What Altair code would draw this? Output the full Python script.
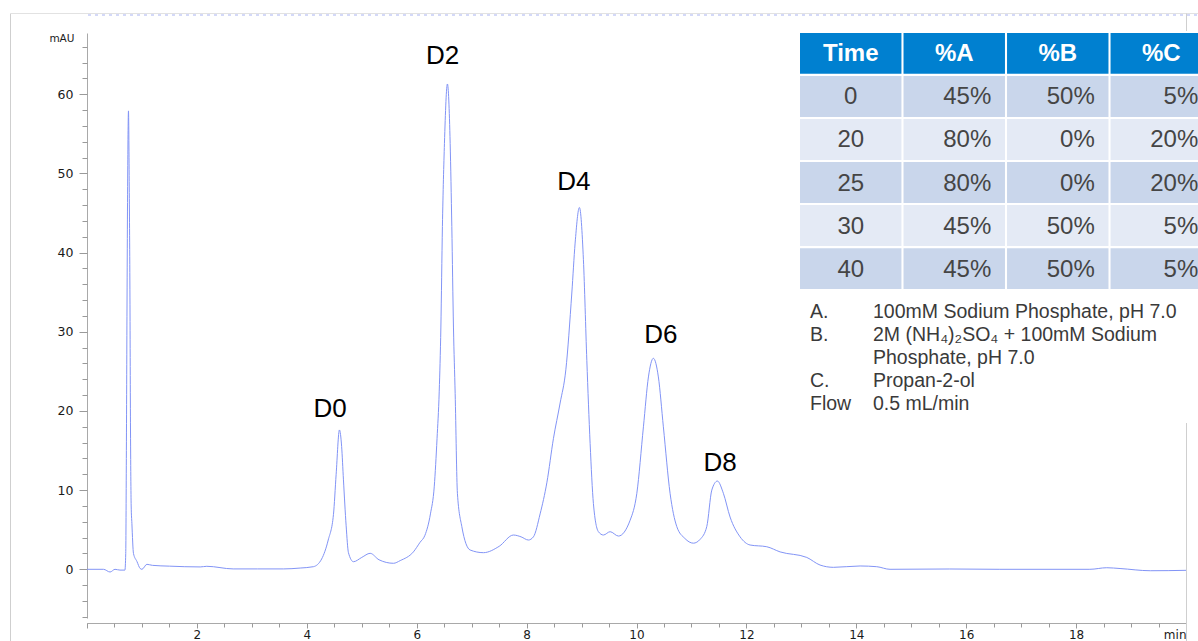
import altair as alt
import pandas as pd

# Chromatogram trace: retention time (min) and absorbance (mAU)
time_min = [
    0.00, 0.30, 0.42, 0.51, 0.60, 0.69, 0.705, 0.716, 0.728, 0.742, 0.755, 0.768,
    0.781, 0.791, 0.804, 0.817, 0.846, 0.908, 0.968, 1.00, 1.09, 1.19, 1.50, 2.06,
    2.18, 2.66, 3.10, 3.58, 3.88, 4.12, 4.27, 4.39, 4.485, 4.534, 4.594, 4.634,
    4.667, 4.716, 4.758, 4.849, 5.00, 5.153, 5.315, 5.577, 5.70, 5.94, 6.06, 6.15,
    6.25, 6.32, 6.37, 6.41, 6.44, 6.468, 6.505, 6.559, 6.609, 6.639, 6.669, 6.70,
    6.741, 6.821, 6.972, 7.214, 7.50, 7.76, 7.90, 8.033, 8.124, 8.246, 8.37, 8.488,
    8.61, 8.714, 8.823, 8.883, 8.961, 9.034, 9.096, 9.156, 9.216, 9.307, 9.398, 9.52,
    9.671, 9.884, 10.006, 10.126, 10.217, 10.307, 10.398, 10.489, 10.611, 10.733,
    10.88, 11.035, 11.16, 11.279, 11.37, 11.472, 11.581, 11.703, 11.885, 12.067,
    12.371, 12.613, 13.099, 13.34, 13.583, 14.07, 14.372, 14.614, 15.70, 16.60,
    18.25, 18.557, 18.80, 19.35, 20.00,
]
absorb_mau = [
    0.00, 0.00, -0.34, 0.00, -0.10, -0.10, 2.0, 14.0, 33.0, 51.0, 57.9, 49.0,
    35.3, 18.5, 8.0, 5.8, 2.0, 1.0, 0.10, 0.00, 0.63, 0.50, 0.40, 0.30,
    0.38, 0.05, 0.05, 0.05, 0.16, 0.33, 1.3, 3.7, 6.9, 12.0, 17.6, 15.5,
    11.3, 5.5, 2.1, 0.96, 1.50, 2.02, 1.20, 0.76, 1.10, 2.20, 3.40, 4.30,
    7.00, 10.5, 16.5, 22.5, 30.6, 43.3, 53.8, 61.3, 53.8, 43.3, 30.6, 22.2,
    9.6, 5.4, 2.44, 2.10, 2.90, 4.33, 4.10, 3.70, 4.10, 7.0, 11.0, 16.5,
    21.0, 25.2, 34.9, 41.2, 45.7, 39.1, 26.4, 15.9, 8.3, 4.75, 4.33, 4.75,
    4.20, 6.20, 9.6, 18.0, 24.3, 26.65, 24.3, 18.0, 9.6, 5.4,
    3.9, 3.3, 3.8, 5.4, 10.0, 11.15, 9.6, 6.6, 4.1, 3.07,
    2.85, 2.20, 1.50, 0.54, 0.25, 0.42, 0.33, 0.00, 0.04, 0.00,
    0.00, 0.20, 0.10, -0.18, -0.13,
]

# Peak names and where their labels sit (min, mAU)
peak_names = ["D0", "D2", "D4", "D6", "D8"]
peak_label_time = [4.425, 6.472, 8.859, 10.444, 11.521]
peak_label_mau = [19.27, 63.8, 47.9, 28.62, 12.45]

# Gradient program
table_columns = ["Time", "%A", "%B", "%C"]
gradient_time = ["0", "20", "25", "30", "40"]
gradient_a = ["45%", "80%", "80%", "45%", "45%"]
gradient_b = ["50%", "0%", "0%", "50%", "50%"]
gradient_c = ["5%", "20%", "20%", "5%", "5%"]

# Mobile phases and flow
solvent_keys = ["A.", "B.", "", "C.", "Flow"]
solvent_text = [
    "100mM Sodium Phosphate, pH 7.0",
    "2M (NH\u2084)\u2082SO\u2084 + 100mM Sodium",
    "Phosphate, pH 7.0",
    "Propan-2-ol",
    "0.5 mL/min",
]

# Axis ticks
x_major = list(range(0, 21, 2))
x_minor = [i / 2 for i in range(41)]
y_major = list(range(0, 61, 10))
y_minor = list(range(-6, 67, 2))

W, H = 1099, 585
AXIS_GRAY = "#a9a9a9"
TICK_GRAY = "#9a9a9a"
LABEL_FONT = "DejaVu Sans"

trace = pd.DataFrame({"t": time_min, "mAU": absorb_mau})
peaks = pd.DataFrame({"t": peak_label_time, "mAU": peak_label_mau, "name": peak_names})

x_scale = alt.Scale(domain=[0, 20], nice=False, zero=False)
y_scale = alt.Scale(domain=[-6.15, 67.74], nice=False, zero=False)

line = alt.Chart(trace).mark_line(
    color="#8294f6", strokeWidth=1, interpolate="monotone"
).encode(
    x=alt.X("t:Q", scale=x_scale, axis=alt.Axis(
        values=x_major, orient="bottom", offset=5, tickSize=5, tickColor=TICK_GRAY,
        domainColor=AXIS_GRAY, grid=False, title=None, labelFlush=True,
        labelExpr="datum.value == 0 ? '' : (datum.value == 20 ? 'min' : datum.label)",
        labelFont=LABEL_FONT, labelFontSize=12, labelColor="#1a1a1a", labelPadding=1,
    )),
    y=alt.Y("mAU:Q", scale=y_scale, axis=alt.Axis(
        values=y_major, orient="left", tickSize=8, tickColor=TICK_GRAY,
        domainColor=AXIS_GRAY, grid=False, labelFont=LABEL_FONT, labelFontSize=12.5,
        labelColor="#1a1a1a", labelPadding=6,
        title="mAU", titleAngle=0, titleX=-13, titleY=5, titleAlign="right",
        titleBaseline="middle", titleFont=LABEL_FONT, titleFontSize=10.5,
        titleFontWeight="normal", titleColor="#1a1a1a",
    )),
)

# Peak labels; this layer also carries the minor tick marks of both axes
labels = alt.Chart(peaks).mark_text(
    font="Liberation Sans", fontSize=26, color="black", align="center", baseline="alphabetic"
).encode(
    x=alt.X("t:Q", scale=x_scale, axis=alt.Axis(
        values=x_minor, orient="bottom", offset=5, tickSize=4, tickColor=TICK_GRAY,
        domain=False, labels=False, grid=False, title=None,
    )),
    y=alt.Y("mAU:Q", scale=y_scale, axis=alt.Axis(
        values=y_minor, orient="left", tickSize=5, tickColor=TICK_GRAY,
        domain=False, labels=False, grid=False, title=None,
    )),
    text="name:N",
)

# Gradient table as a grid of cells
cells = []
for col in table_columns:
    cells.append({"row": "head", "col": col, "text": col, "band": "head"})
for i, t in enumerate(gradient_time):
    for col, val in zip(table_columns, [t, gradient_a[i], gradient_b[i], gradient_c[i]]):
        cells.append({"row": t, "col": col, "text": val, "band": "dark" if i % 2 == 0 else "light"})
table = pd.DataFrame(cells)
row_order = ["head"] + gradient_time

col_scale = alt.Scale(type="band", domain=table_columns, range=[713, 1125],
                      paddingInner=0.02, paddingOuter=0)
row_scale = alt.Scale(type="band", domain=row_order, range=[0, 256],
                      paddingInner=0.05, paddingOuter=0)
tx = alt.X("col:N", scale=col_scale, axis=None)
ty = alt.Y("row:N", scale=row_scale, axis=None)

cell_rect = alt.Chart(table).mark_rect().encode(
    x=tx, y=ty,
    color=alt.Color("band:N", scale=alt.Scale(
        domain=["head", "dark", "light"], range=["#0080d0", "#c9d6eb", "#e4eaf5"]), legend=None),
)
head_text = alt.Chart(table).transform_filter("datum.band == 'head'").mark_text(
    font="Liberation Sans", fontSize=24, fontWeight="bold", color="white", baseline="middle", dy=1
).encode(x=tx, y=ty, text="text:N")
body_time = alt.Chart(table).transform_filter(
    "datum.band != 'head' && datum.col == 'Time'"
).mark_text(
    font="Liberation Sans", fontSize=24, color="#454545", baseline="middle", dy=1
).encode(x=tx, y=ty, text="text:N")
body_pct = alt.Chart(table).transform_filter(
    "datum.band != 'head' && datum.col != 'Time'"
).mark_text(
    font="Liberation Sans", fontSize=24, color="#454545", baseline="middle", align="right", dx=37, dy=1
).encode(x=tx, y=ty, text="text:N")

# Solvent notes
notes = []
for i, (k, d) in enumerate(zip(solvent_keys, solvent_text)):
    notes.append({"line": i, "part": "key", "text": k})
    notes.append({"line": i, "part": "desc", "text": d})
notes = pd.DataFrame(notes)
notes_text = alt.Chart(notes).mark_text(
    font="Liberation Sans", fontSize=19.5, color="#3a3a3a", align="left", baseline="alphabetic"
).encode(
    x=alt.X("part:N", scale=alt.Scale(type="point", domain=["key", "desc"], range=[723, 786], padding=0), axis=None),
    y=alt.Y("line:Q", scale=alt.Scale(domain=[0, 4], range=[285, 377]), axis=None),
    text="text:N",
)

# Page frame
one = pd.DataFrame({"k": [0]})
frame_color = "#cfcfcf"
left_edge = alt.Chart(one).mark_rule(color=frame_color).encode(
    x=alt.value(-76.5), y=alt.value(-19.5), y2=alt.value(608))
top_edge = alt.Chart(one).mark_rule(color="#e2e2e2").encode(
    x=alt.value(-76.5), x2=alt.value(1111), y=alt.value(-19.5))
right_top = alt.Chart(one).mark_rule(color=frame_color).encode(
    x=alt.value(1099.5), y=alt.value(-19.5), y2=alt.value(-2))
right_low = alt.Chart(one).mark_rule(color=frame_color).encode(
    x=alt.value(1099.5), y=alt.value(390), y2=alt.value(608))
header_strip = alt.Chart(one).mark_rule(
    color="#b7bff3", strokeDash=[3, 4], strokeWidth=1.5, opacity=0.8
).encode(x=alt.value(1), x2=alt.value(1111), y=alt.value(-18))

chart = alt.layer(
    line, labels, cell_rect, head_text, body_time, body_pct, notes_text,
    left_edge, top_edge, right_top, right_low, header_strip,
).resolve_scale(
    x="independent", y="independent"
).properties(
    width=W, height=H,
    autosize=alt.AutoSizeParams(type="none"),
    padding={"left": 87, "top": 33, "right": 12, "bottom": 23},
    background="white",
).configure_view(stroke=None)

chart.save("out.html", embed_options={"renderer": "svg", "actions": False})
